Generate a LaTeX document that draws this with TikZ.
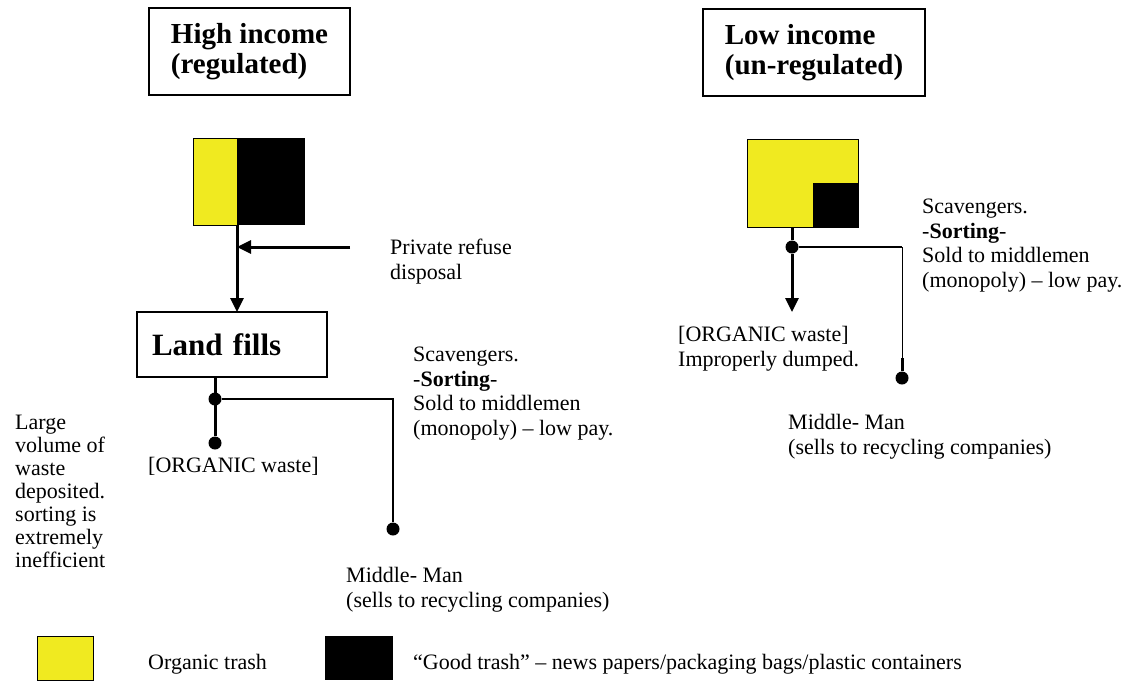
\documentclass[tikz,border=0pt]{standalone}
\usepackage{fontspec}
\setmainfont{Liberation Serif}
\usetikzlibrary{positioning,arrows.meta}
\definecolor{organic}{RGB}{240,234,32}

\begin{document}
\begin{tikzpicture}[x=1pt,y=-1pt,
    titlebox/.style={draw, line width=1.5pt, font=\fontsize{29}{30}\selectfont\bfseries, align=left, inner sep=0pt, outer sep=0pt},
    organicbox/.style={draw, line width=1pt, fill=organic, inner sep=0pt, outer sep=0pt},
    goodbox/.style={fill=black, inner sep=0pt, outer sep=0pt},
    blob/.style={circle, fill=black, inner sep=0pt, minimum size=13pt},
    txt/.style={font=\fontsize{22}{24.5}\selectfont, align=left, inner sep=0pt, anchor=base west},
    flow/.style={line width=3pt},
    flowarrow/.style={-{Triangle[length=14pt,width=13pt]}}]
    \useasboundingbox (0,0) rectangle (1126,681);

    %Nodes
    \node[titlebox, minimum width=201pt, minimum height=87pt] (high) at (249.5,51.5) {High income\\(regulated)};
    \node[titlebox, minimum width=222pt, minimum height=87pt] (low)  at (814,52.5)   {Low income\\(un-regulated)};

    \node[organicbox, minimum width=44pt, minimum height=87pt] (hyel) at (215,181.5) {};
    \node[goodbox, minimum width=68pt, minimum height=87pt]    (hblk) [right=0pt of hyel] {};
    \coordinate (priv) at (350,247);
    \node[titlebox, font=\fontsize{31}{32}\selectfont\bfseries, text width=160pt, inner xsep=15pt, minimum height=65pt, anchor=north west] (land) at (137,312) {Land fills};
    \node[blob] (j1) at (215,399) {};
    \node[blob] (d1) at (215,443) {};
    \node[blob] (d2) at (393,529) {};

    \node[organicbox, minimum width=111pt, minimum height=88pt] (lyel) at (802.5,183) {};
    \node[goodbox, minimum width=45pt, minimum height=44pt, anchor=south east] (lblk) at (lyel.south east) {};
    \node[blob] (j2) at (792,247) {};
    \coordinate (ltip) at (792,312);
    \coordinate (lstub) at (902,358);
    \node[blob] (d3) at (902,378) {};

    %Texts (anchored at the baseline of the last line)
    \node[txt] (privtxt) at (390,279) {Private refuse\\disposal};
    \node[txt] (hscav) at (413,435) {Scavengers.\\-\textbf{Sorting}-\\Sold to middlemen\\(monopoly) – low pay.};
    \node[txt] (horg) at (148,472) {[ORGANIC waste]};
    \node[txt, font=\fontsize{22}{23}\selectfont] (large) at (15,567) {Large\\volume of\\waste\\deposited.\\sorting is\\extremely\\inefficient};
    \node[txt] (hmid) at (346,607) {Middle- Man\\(sells to recycling companies)};
    \node[txt] (lscav) at (922,287) {Scavengers.\\-\textbf{Sorting}-\\Sold to middlemen\\(monopoly) – low pay.};
    \node[txt] (lorg) at (678,366) {[ORGANIC waste]\\Improperly dumped.};
    \node[txt] (lmid) at (788,454) {Middle- Man\\(sells to recycling companies)};

    %Legend
    \node[organicbox, minimum width=56pt, minimum height=44pt, anchor=north west] (legorg) at (37,636) {};
    \node[txt] (legorgtxt) at (148,669) {Organic trash};
    \node[goodbox, minimum width=68pt, minimum height=44pt, anchor=north west] (leggood) at (325,636) {};
    \node[txt] (leggoodtxt) at (413,669) {“Good trash” – news papers/packaging bags/plastic containers};

    %Lines
    \draw[flow, flowarrow] (hblk.south west) -- (hblk.south west |- land.north);
    \draw[flow, flowarrow] (priv) -- (priv -| hblk.south west);
    \draw[flow] (j1 |- land.south) -- (d1);
    \draw[line width=2.5pt] (j1) -- (j1 -| d2) -- (d2);
    \draw[flow] (j2 |- lyel.south) -- (j2);
    \draw[flow, flowarrow] (j2) -- (ltip);
    \draw[line width=2.5pt] (j2) -- (j2 -| d3);
    \draw[line width=1pt] (j2 -| d3) -- (lstub);
    \draw[flow] (lstub) -- (d3);
\end{tikzpicture}
\end{document}
